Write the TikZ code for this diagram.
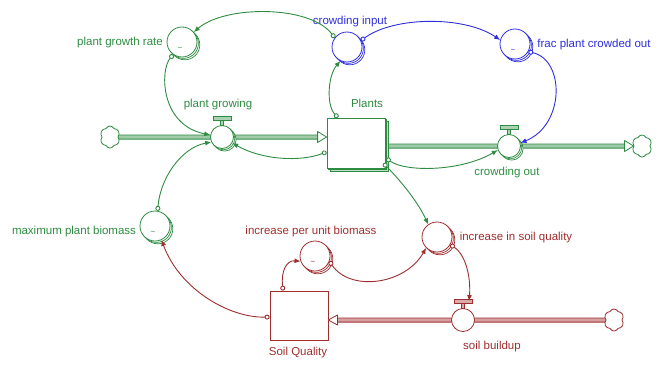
\documentclass[tikz,border=0pt]{standalone}
\usepackage{fontspec}
\setmainfont{Liberation Sans}
\usetikzlibrary{arrows.meta,shapes.symbols,shadows,calc}
\definecolor{grn}{RGB}{45,140,65}
\definecolor{blu}{RGB}{45,45,225}
\definecolor{rd}{RGB}{160,45,45}
\pgfdeclarelayer{bg}
\pgfsetlayers{bg,main}
\tikzset{
 lab/.style={font=\fontsize{11.5}{13}\selectfont, inner sep=0pt},
 tild/.style={font=\fontsize{8}{8}\selectfont, inner sep=0pt},
 aux/.style={circle, draw=#1, fill=white, minimum size=30pt, inner sep=0pt, line width=0.8pt},
 auxarr/.style={aux=#1, double copy shadow={shadow xshift=1.4pt, shadow yshift=-1.4pt, draw=#1, fill=white, line width=0.7pt}},
 valve/.style={circle, draw=#1, fill=white, minimum size=23pt, inner sep=0pt, line width=0.8pt},
 valvearr/.style={valve=#1, double copy shadow={shadow xshift=1.3pt, shadow yshift=-1.3pt, draw=#1, fill=white, line width=0.7pt}},
 pipe/.style={draw=#1, double=#1!45, line width=0.9pt, double distance=3.2pt},
 conn/.style={draw=#1, line width=0.9pt, {Circle[open,length=5pt,fill=white]}-{Latex[length=6pt,width=5pt]}},
 src/.style={cloud, cloud puffs=6, cloud puff arc=130, aspect=1, draw=#1, fill=white, minimum width=20pt, minimum height=22pt, inner sep=0pt, line width=0.8pt},
 pipetip/.style={draw=#1, fill=white, line width=0.8pt, line join=round}
}
\newcommand{\mkvalvebar}[2]{%
  \draw[#2, fill=#2!40, line width=0.7pt] ($(#1.north)+(-1.5,0)$) rectangle ($(#1.north)+(1.5,-5)$);
  \draw[#2, fill=#2!40, line width=0.7pt] ($(#1.north)+(-9,-5)$) rectangle ($(#1.north)+(9,-8.5)$);
}
\begin{document}
\begin{tikzpicture}[x=1pt,y=-1pt]
\useasboundingbox (0,0) rectangle (661,372);
% stocks
\node[rectangle, draw=grn, fill=white, line width=0.8pt, minimum width=58pt, minimum height=50pt, inner sep=0pt,
      double copy shadow={shadow xshift=1.8pt, shadow yshift=-1.8pt, fill=grn!30, draw=grn, line width=0.7pt}] (plants) at (356,143) {};
\node[rectangle, draw=rd, fill=white, line width=0.8pt, minimum width=58pt, minimum height=49pt, inner sep=0pt] (soil) at (299,315.5) {};
% clouds
\node[src=grn] (cloudL) at (110,137) {};
\node[src=grn] (cloudR) at (642,146) {};
\node[src=rd] (cloudS) at (614,320) {};
% valves
\node[valvearr=grn] (pg) at (222,137) {};
\node[valvearr=grn] (co) at (509,146) {};
\node[valve=rd] (sb) at (463,320) {};
\mkvalvebar{pg}{grn}
\mkvalvebar{co}{grn}
\mkvalvebar{sb}{rd}
% auxiliaries
\node[auxarr=grn] (pgr) at (182,42) {};
\node[auxarr=blu] (cin) at (347,47) {};
\node[auxarr=blu] (frac) at (515,44) {};
\node[auxarr=grn] (mpb) at (155,226) {};
\node[auxarr=rd] (ipub) at (315,256) {};
\node[auxarr=rd] (isq) at (437,237) {};
% tildes
\node[tild, text=grn] (t1) at (180,49) {\textasciitilde};
\node[tild, text=blu] (t2) at (513,51) {\textasciitilde};
\node[tild, text=grn] (t3) at (153,233) {\textasciitilde};
\node[tild, text=rd] (t4) at (313,263) {\textasciitilde};
% pipes
\coordinate (pin) at ([yshift=6pt]plants.west);
\coordinate (pout) at ([yshift=-3pt]plants.east);
\coordinate (sin) at ([yshift=-4.5pt]soil.east);
\coordinate (cRin) at (cloudR.west);
\begin{pgfonlayer}{bg}
\draw[pipe=grn] (cloudL.east) -- ($(pin)+(-9,0)$);
\draw[pipe=grn] (pout) -- ($(cRin)+(-9,0)$);
\draw[pipe=rd] (cloudS.west) -- ($(sin)+(9,0)$);
\end{pgfonlayer}
\draw[pipetip=grn] ($(pin)+(-9,-5.5)$) -- (pin) -- ($(pin)+(-9,5.5)$) -- cycle;
\draw[pipetip=grn] ($(cRin)+(-9,-5.5)$) -- (cRin) -- ($(cRin)+(-9,5.5)$) -- cycle;
\draw[pipetip=rd] ($(sin)+(9,-5)$) -- (sin) -- ($(sin)+(9,5)$) -- cycle;
% labels
\node[lab, text=grn] (lpgr) at (120,43) {plant growth rate};
\node[lab, text=grn] (lpg) at (218,105) {plant growing};
\node[lab, text=grn] (lplants) at (367,103) {Plants};
\node[lab, text=blu] (lcin) at (350,22) {crowding input};
\node[lab, text=blu] (lfrac) at (594,45) {frac plant crowded out};
\node[lab, text=grn] (lco) at (507,173) {crowding out};
\node[lab, text=grn] (lmpb) at (74,232) {maximum plant biomass};
\node[lab, text=rd] (lipub) at (311,232) {increase per unit biomass};
\node[lab, text=rd] (lisq) at (516,238) {increase in soil quality};
\node[lab, text=rd] (lsoil) at (298,353) {Soil Quality};
\node[lab, text=rd] (lsb) at (492,347) {soil buildup};
% connectors
\coordinate (sbtop) at ($(sb.north)+(6,-7)$);
\draw[conn=grn] (cin.143) .. controls (310,5) and (225,5) .. (pgr.40);
\draw[conn=grn] (pgr.235) .. controls (160,70) and (160,125) .. (pg.170);
\draw[conn=grn] (mpb.80) .. controls (160,180) and (180,148) .. (pg.205);
\draw[conn=grn] ([yshift=-9pt]plants.west) .. controls (300,162) and (262,160) .. (pg.-30);
\draw[conn=grn] ([xshift=-18pt]plants.north) .. controls (326,105) and (328,75) .. (cin.245);
\draw[conn=grn] ([xshift=1pt,yshift=10pt]plants.south east) .. controls (405,172) and (460,172) .. (co.200);
\draw[conn=grn] ([xshift=-2pt,yshift=5pt]plants.south east) .. controls (400,180) and (418,202) .. (isq.125);
\draw[conn=blu] (cin.25) .. controls (395,16) and (465,16) .. (frac.165);
\draw[conn=blu] (frac.-30) .. controls (565,60) and (565,125) .. (co.15);
\draw[conn=rd] ([yshift=-1.5pt]soil.west) .. controls (230,318) and (180,290) .. (mpb.-65);
\draw[conn=rd] ([xshift=-16pt]soil.north) .. controls (281,272) and (286,260) .. (ipub.200);
\draw[conn=rd] (ipub.-20) .. controls (350,292) and (405,285) .. (isq.225);
\draw[conn=rd] (isq.-30) .. controls (466,255) and (471,278) .. (sbtop);
\end{tikzpicture}
\end{document}
